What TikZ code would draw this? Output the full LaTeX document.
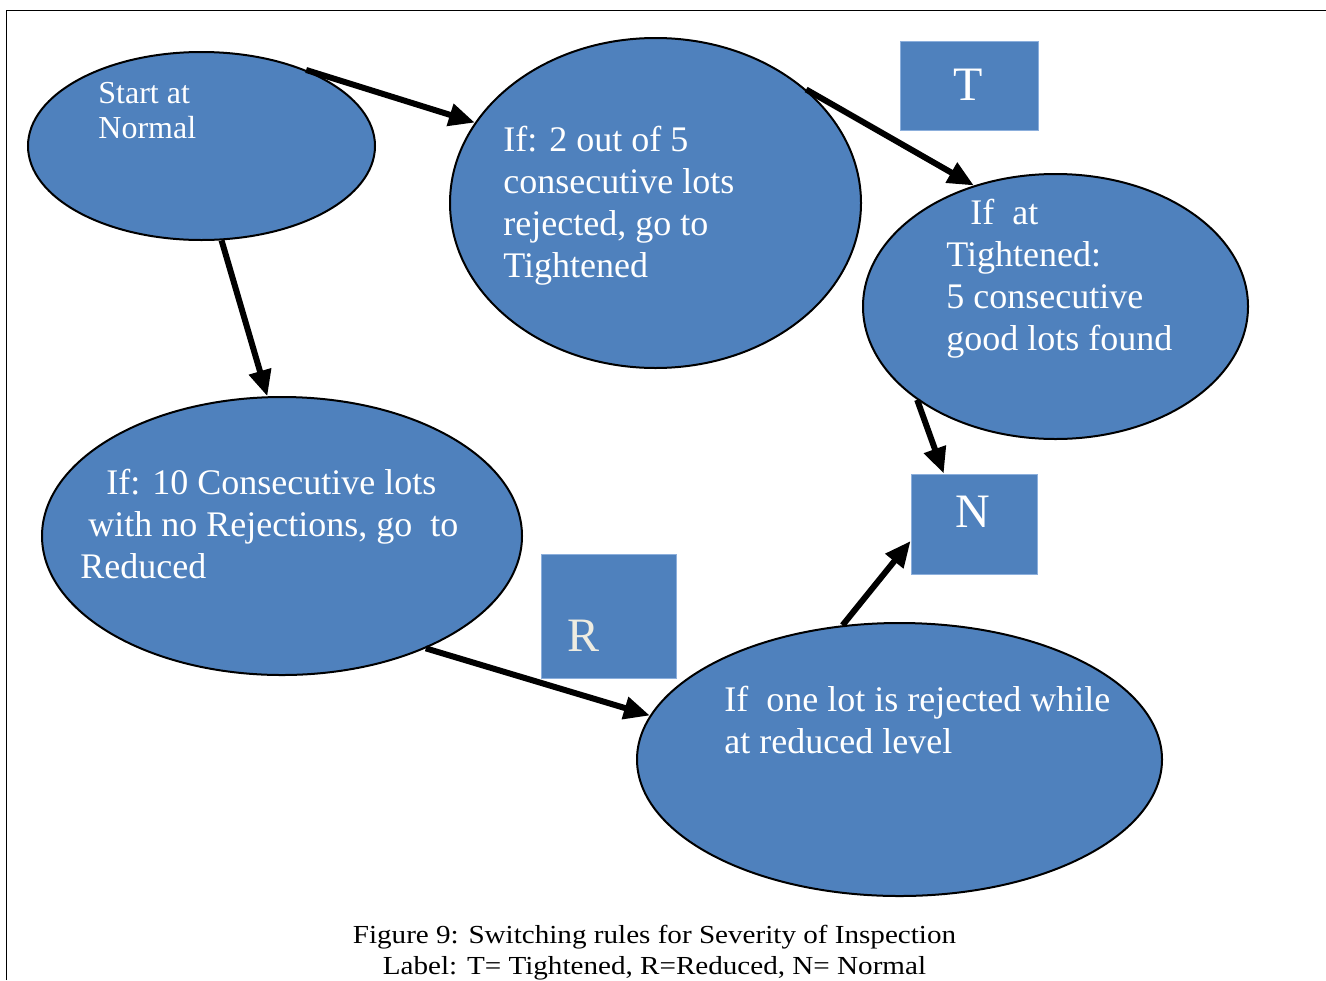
\documentclass[tikz,border=0pt]{standalone}
\usepackage{fontspec}
\setmainfont{Liberation Serif}
\newfontfamily\capfont[FakeStretch=1.12]{Liberation Serif}
\usetikzlibrary{shapes.geometric,arrows.meta}
\definecolor{ovalblue}{RGB}{79,129,189}
\definecolor{boxedge}{RGB}{140,175,220}
\definecolor{offwhite}{RGB}{238,236,225}
\tikzset{
  oval/.style={ellipse,draw=black,line width=1pt,fill=ovalblue,inner sep=0pt},
  lbox/.style={rectangle,draw=boxedge,line width=0.4pt,fill=ovalblue,inner sep=0pt},
  ovaltext/.style={anchor=base west,inner sep=0pt,align=left,text=white,font=\fontsize{18}{21}\selectfont},
  boxletter/.style={anchor=base,inner sep=0pt,text=white,font=\fontsize{24}{28}\selectfont},
  switch/.style={line width=3pt,-{Triangle[length=13pt,width=11pt]}}
}
\begin{document}
\begin{tikzpicture}[x=0.5pt,y=-0.5pt]
  \useasboundingbox (0,0) rectangle (1326,980);
  \draw[line width=0.5pt] (6,980)--(6,10.5)--(1326,10.5);
  % ovals
  \node[oval,minimum width=173.5pt,minimum height=94pt] (start) at (201.5,146) {};
  \node[oval,minimum width=205.5pt,minimum height=165pt] (tight) at (655.5,203) {};
  \node[oval,minimum width=192.5pt,minimum height=132.5pt] (tightok) at (1055.5,306.5) {};
  \node[oval,minimum width=240pt,minimum height=139pt] (reduce) at (282,536) {};
  \node[oval,minimum width=262.5pt,minimum height=136.5pt] (reject) at (899.5,759.5) {};
  % label boxes
  \node[lbox,minimum width=69pt,minimum height=44.5pt] (boxT) at (969,85.5) {};
  \node[lbox,minimum width=63pt,minimum height=50pt] (boxN) at (974,524) {};
  \node[lbox,minimum width=67.5pt,minimum height=62pt] (boxR) at (608.5,616) {};
  \node[boxletter] (letT) at (968,100) {T};
  \node[boxletter] (letN) at (973,527) {N};
  \node[boxletter,text=offwhite] (letR) at (583,651) {R};
  % texts (anchored at the baseline of the last line)
  \node[ovaltext,font=\fontsize{16}{17.5}\selectfont] (startlbl) at (98,138) {Start at\\Normal};
  \node[ovaltext] (tightlbl) at (503,277) {If: 2 out of 5\\consecutive lots\\rejected, go to\\Tightened};
  \node[ovaltext] (tightoklbl) at (946,350) {\hspace*{12pt}If\ \ at\\Tightened:\\5 consecutive\\good lots found};
  \node[ovaltext] (reducelbl) at (80,578) {\hspace*{13pt}If: 10 Consecutive lots\\\hspace*{4pt}with no Rejections, go\ \ to\\Reduced};
  \node[ovaltext] (rejectlbl) at (724,753) {If\ \ one lot is rejected while\\at reduced level};
  % switching arrows
  \draw[switch] (start.36)--(tight.156);
  \draw[switch] (tight.37)--(tightok.124);
  \draw[switch] (start.-78)--(reduce.96);
  \draw[switch] (tightok.-146.5)--(boxN.121);
  \draw[switch] (reduce.-38)--(reject.170);
  \draw[switch] (reject.113)--(boxN.-165);
  % caption
  \node[anchor=base,align=center,inner sep=0pt,font=\capfont\fontsize{13}{15.5}\selectfont] (caption) at (654.5,974)
    {Figure 9: Switching rules for Severity of Inspection\\Label: T= Tightened, R=Reduced, N= Normal};
\end{tikzpicture}
\end{document}
